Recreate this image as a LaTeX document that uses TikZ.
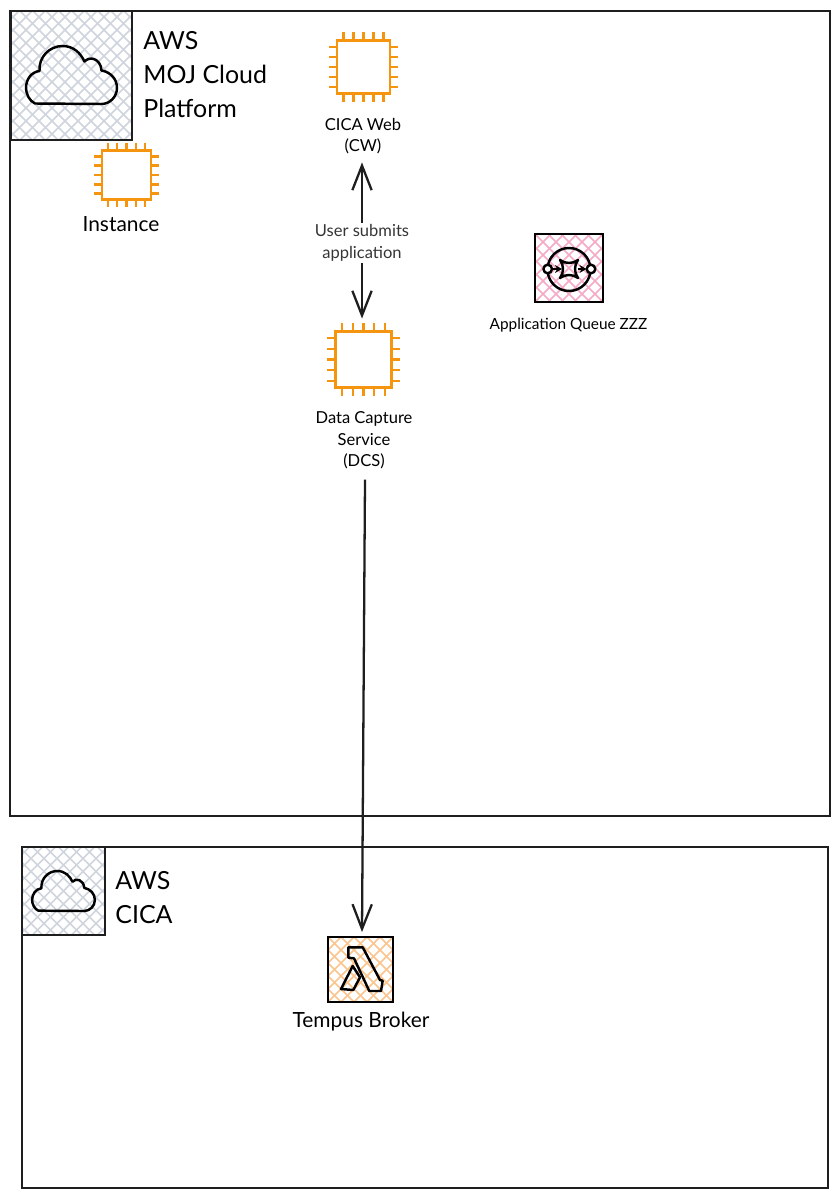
\documentclass[tikz,border=0pt]{standalone}
\usepackage{fontspec}
\setmainfont{Lato}
\usetikzlibrary{arrows.meta}

\definecolor{inkdark}{HTML}{1E1E1E}
\definecolor{chiporange}{HTML}{F5950F}
\definecolor{hatchgrey}{HTML}{CFD4DD}
\definecolor{hatchpink}{HTML}{F5AAC6}
\definecolor{hatchorange}{HTML}{FCC58F}

\tikzset{
    frame/.style={draw=inkdark, line width=1.25pt},
    iconbox/.style={draw=#1, line width=1.5pt, inner sep=0pt, outer sep=0pt},
    iconbox/.default=black,
    hatched/.style={path picture={
        \foreach \d in {-156,-143,...,156}{
            \draw[#1, line width=.85pt] (path picture bounding box.center) ++(\d,0) ++(-170,-170) -- ++(340,340);
            \draw[#1, line width=.85pt] (path picture bounding box.center) ++(\d,0) ++(-170,170) -- ++(340,-340);
        }}},
    glyph/.style={draw=black, line width=1.4pt, line join=round},
    flow/.style={draw=inkdark, line width=1.3pt, -{Straight Barb[length=14pt, width=11pt, line width=1.3pt]}},
    titletext/.style={font=\fontsize{14.2}{19.3}\selectfont, align=left, anchor=north west, inner sep=0pt, text=black},
    bigtext/.style={font=\fontsize{11.9}{14}\selectfont, align=center, inner sep=0pt, text=black},
    smalltext/.style={font=\fontsize{9.4}{12.3}\selectfont, align=center, inner sep=0pt, text=black},
    pics/chip/.style={code={
        \node[draw=chiporange, line width=1.4pt, minimum size=1cm, inner sep=0pt, outer sep=0pt, transform shape] (-body) at (0,0) {};
        \foreach \p in {-19,-9.5,0,9.5,19}{
            \draw[chiporange, line width=1.4pt] (\p,-25) -- (\p,-33);
            \draw[chiporange, line width=1.4pt] (\p,25) -- (\p,33);
            \draw[chiporange, line width=1.4pt] (-25,\p) -- (-33,\p);
            \draw[chiporange, line width=1.4pt] (25,\p) -- (33,\p);
        }}},
    pics/cloud/.style={code={
        \draw[glyph] (-36.5,28.5) .. controls (-42,26) and (-45.5,19) .. (-45.5,13)
            .. controls (-45.5,4) and (-40,-3) .. (-32,-4)
            .. controls (-33,-18) and (-22,-29) .. (-9,-29)
            .. controls (2,-29) and (9,-22) .. (13,-13.5)
            .. controls (18,-19) and (29,-17) .. (30,-4.5)
            .. controls (39,-3) and (45.5,4) .. (45.5,13)
            .. controls (45.5,22) and (38,29) .. (30,29)
            -- cycle;
    }},
}

\begin{document}
\begin{tikzpicture}[x=.02cm, y=-.02cm]
    \useasboundingbox (0,0) rectangle (839,1197);
    \fill[white] (0,0) rectangle (839,1197);
    % The two account frames.
        \draw[frame] (10,11) rectangle (830,816);
        \draw[frame] (22,847) rectangle (828,1188);
    % The hatched icons.
        \node[iconbox=inkdark, hatched=hatchgrey, minimum width=2.42cm, minimum height=2.58cm] (mojicon) at (71.5,75.5) {};
        \node[iconbox=inkdark, hatched=hatchgrey, minimum width=1.66cm, minimum height=1.76cm] (cicaicon) at (63.5,891) {};
        \node[iconbox, hatched=hatchpink, minimum width=1.36cm, minimum height=1.36cm] (queue) at (569,268) {};
        \node[iconbox, hatched=hatchorange, minimum width=1.30cm, minimum height=1.30cm] (lambda) at (360.5,969.5) {};
    % Clouds sit on top of the grey icons.
        \pic at (71.5,75) {cloud};
        \pic[scale=.69] at (63.5,891) {cloud};
    % Below is the queue glyph.
        \draw[glyph] (569,269.5) circle (21.5);
        \draw[glyph, fill=white] (547.7,269) circle (4.3);
        \draw[glyph, fill=white] (591,269) circle (4.3);
        \draw[glyph] (560,260) .. controls (565,264) and (573,264) .. (578,260)
            .. controls (574,265) and (574,273) .. (578,278)
            .. controls (573,274) and (565,274) .. (560,278)
            .. controls (564,273) and (564,265) .. (560,260) -- cycle;
        \draw[glyph, -{Stealth[length=4pt, width=4.5pt]}] (552,269) -- (562,269);
        \draw[glyph, -{Stealth[length=4pt, width=4.5pt]}] (578,269) -- (586.5,269);
    % Below is the lambda glyph.
        \draw[glyph] (348.3,947.3) -- (362.7,947.3) -- (380,980) -- (382.7,980.7) -- (381,991) -- (369.3,991) -- (354,958.3) -- (348.3,957.7) -- cycle;
        \draw[glyph] (352.7,966) -- (341,989) -- (353.3,990) -- (360,977.3) -- cycle;
    % The instances.
        \pic[scale=.98] (instance) at (126.5,175) {chip};
        \pic[scale=1.06] (cw) at (363.5,67) {chip};
        \pic[scale=1.12] (dcs) at (363.5,359.5) {chip};
    % Below nodes are the labels.
        \node[titletext] (mojtitle) at (143,31) {AWS\\MOJ Cloud\\Platform};
        \node[titletext] (cicatitle) at (115,871) {AWS\\CICA};
        \node[bigtext] (instancelabel) at (121,224) {Instance};
        \node[smalltext] (cwlabel) at (363,136) {CICA Web\\(CW)};
        \node[smalltext] (dcslabel) at (364,440.5) {Data Capture\\Service\\(DCS)};
        \node[smalltext, font=\fontsize{8.75}{12.3}\selectfont] (queuelabel) at (568.5,325.5) {Application Queue ZZZ};
        \node[bigtext] (brokerlabel) at (361,1021.5) {Tempus Broker};
        \node[smalltext, text=inkdark!90] (submit) at (362,243) {User submits\\application};
    % Connectors.
        \draw[flow, shorten <=1pt] (submit.north) -- ([yshift=-.16cm]submit.north |- cwlabel.south);
        \draw[flow, shorten <=1pt] (submit.south) -- ([yshift=.26cm]submit.south |- dcs-body.north);
        \draw[flow] ([xshift=.02cm, yshift=-.2cm]dcslabel.south) -- ([xshift=.03cm, yshift=.1cm]lambda.north);
\end{tikzpicture}
\end{document}
